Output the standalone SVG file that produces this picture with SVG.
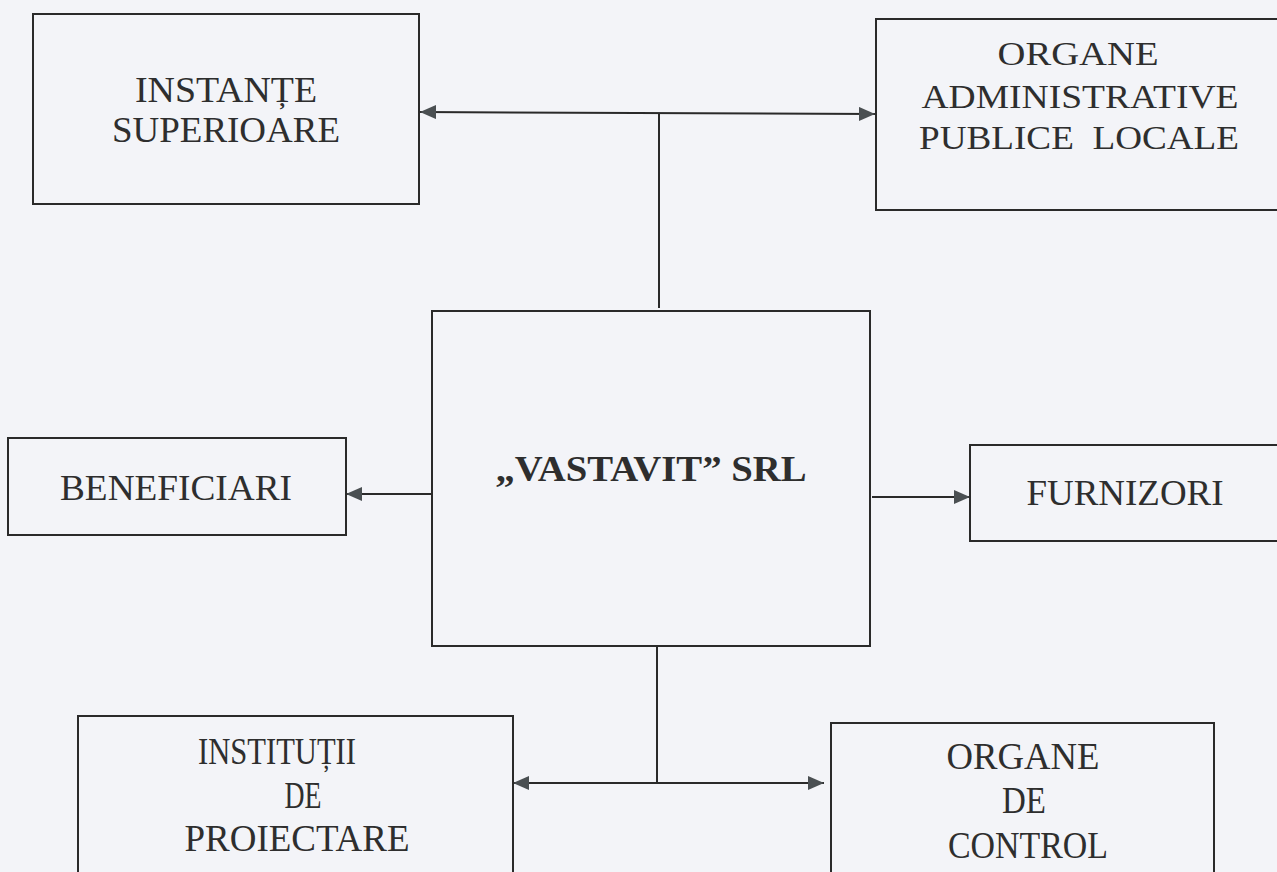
<svg xmlns="http://www.w3.org/2000/svg" width="1277" height="872" viewBox="0 0 1277 872">
<defs>
<style>
.box{fill:none;stroke:#2a2a2a;stroke-width:2}
.ln{fill:none;stroke:#2a2a2a;stroke-width:2}
.t{fill:#2e2e2e;text-anchor:middle}
</style>
<marker id="ah" viewBox="0 0 16 14" refX="16" refY="7" markerWidth="16" markerHeight="14" markerUnits="userSpaceOnUse" orient="auto-start-reverse">
<path d="M0,0 L16,7 L0,14 Z" fill="#4a4f52"/>
</marker>
</defs>
<rect width="1277" height="872" fill="#f3f4f8"/>
<g id="connectors">
<line class="ln" x1="420" y1="112" x2="875" y2="114" marker-start="url(#ah)" marker-end="url(#ah)"/>
<line class="ln" x1="659" y1="113" x2="659" y2="308"/>
<line class="ln" x1="432" y1="494" x2="346" y2="494" marker-end="url(#ah)"/>
<line class="ln" x1="872" y1="497" x2="970" y2="497" marker-end="url(#ah)"/>
<line class="ln" x1="657" y1="647" x2="657" y2="783"/>
<line class="ln" x1="513" y1="783" x2="824" y2="783" marker-start="url(#ah)" marker-end="url(#ah)"/>
</g>
<g font-family="Liberation Serif, Times New Roman, DejaVu Serif, serif" font-size="36">
<g id="instante">
<rect class="box" x="33" y="14" width="386" height="190"/>
<text class="t" x="226" y="102" textLength="182" lengthAdjust="spacingAndGlyphs">INSTANȚE</text>
<text class="t" x="226" y="142" textLength="228" lengthAdjust="spacingAndGlyphs">SUPERIOARE</text>
</g>
<g id="organe-admin" font-size="34">
<rect class="box" x="876" y="19" width="410" height="191"/>
<text class="t" x="1078" y="65" textLength="161" lengthAdjust="spacingAndGlyphs">ORGANE</text>
<text class="t" x="1080" y="108" textLength="317" lengthAdjust="spacingAndGlyphs">ADMINISTRATIVE</text>
<text class="t" x="1079" y="149" textLength="320" lengthAdjust="spacingAndGlyphs" xml:space="preserve">PUBLICE  LOCALE</text>
</g>
<g id="vastavit">
<rect class="box" x="432" y="311" width="438" height="335"/>
<text class="t" x="651" y="481" font-weight="bold" font-size="35" textLength="311" lengthAdjust="spacingAndGlyphs">„VASTAVIT” SRL</text>
</g>
<g id="beneficiari">
<rect class="box" x="8" y="438" width="338" height="97"/>
<text class="t" x="176" y="500" textLength="232" lengthAdjust="spacingAndGlyphs">BENEFICIARI</text>
</g>
<g id="furnizori">
<rect class="box" x="970" y="445" width="320" height="96"/>
<text class="t" x="1125" y="505" textLength="197" lengthAdjust="spacingAndGlyphs">FURNIZORI</text>
</g>
<g id="institutii" font-size="37">
<rect class="box" x="78" y="716" width="435" height="170"/>
<text class="t" x="277" y="764" textLength="158" lengthAdjust="spacingAndGlyphs">INSTITUȚII</text>
<text class="t" x="303" y="808" textLength="37" lengthAdjust="spacingAndGlyphs">DE</text>
<text class="t" x="297" y="851" textLength="225" lengthAdjust="spacingAndGlyphs">PROIECTARE</text>
</g>
<g id="organe-control" font-size="37">
<rect class="box" x="831" y="723" width="383" height="170"/>
<text class="t" x="1023" y="769" textLength="153" lengthAdjust="spacingAndGlyphs">ORGANE</text>
<text class="t" x="1024" y="813" textLength="44" lengthAdjust="spacingAndGlyphs">DE</text>
<text class="t" x="1028" y="858" textLength="160" lengthAdjust="spacingAndGlyphs">CONTROL</text>
</g>
</g>
</svg>
